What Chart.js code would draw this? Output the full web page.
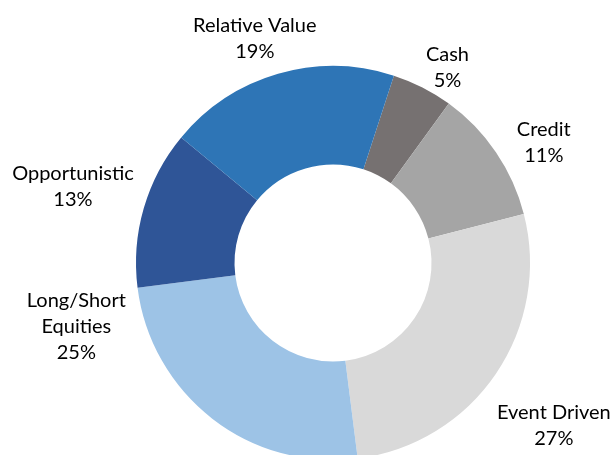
<!DOCTYPE html>
<html>
<head>
<meta charset="utf-8">
<script src="https://cdn.jsdelivr.net/npm/chart.js@4/dist/chart.umd.min.js"></script>
<style>
html,body{margin:0;padding:0;background:#fff;overflow:hidden;}
#wrap{position:absolute;left:0;top:0;width:613px;height:526px;}
</style>
</head>
<body>
<div id="wrap"><canvas id="c" width="613" height="526"></canvas></div>
<script>
const categories = ["Cash", "Credit", "Event Driven", "Long/Short Equities", "Opportunistic", "Relative Value"];
const labelLines = [["Cash"], ["Credit"], ["Event Driven"], ["Long/Short", "Equities"], ["Opportunistic"], ["Relative Value"]];
const values = [5, 11, 27, 25, 13, 19];
const colors = ["#767171", "#A5A5A5", "#D9D9D9", "#9DC3E6", "#2F5597", "#2E75B6"];
// label block centres, relative to the doughnut centre, in units of the outer radius
const labelOffsets = [[0.581, -0.994], [1.070, -0.612], [1.121, 0.825], [-1.303, 0.322], [-1.320, -0.389], [-0.397, -1.141]];

const labelPlugin = {
  id: 'outLabels',
  afterDraw(chart) {
    const ctx = chart.ctx;
    const meta = chart.getDatasetMeta(0);
    const total = values.reduce((a, b) => a + b, 0);
    ctx.save();
    ctx.fillStyle = '#000';
    ctx.font = '20px Lato, "Open Sans", sans-serif';
    ctx.textAlign = 'center';
    ctx.textBaseline = 'alphabetic';
    const lh = 26;
    meta.data.forEach((arc, i) => {
      const cx = arc.x, cy = arc.y, R = arc.outerRadius;
      const lines = labelLines[i].concat([Math.round(values[i] / total * 100) + '%']);
      const ax = cx + labelOffsets[i][0] * R;
      const ay = cy + labelOffsets[i][1] * R;
      const firstBase = ay + 6.5 - (lines.length - 1) * lh / 2;
      lines.forEach((t, j) => ctx.fillText(t, ax, firstBase + j * lh));
    });
    ctx.restore();
  }
};

new Chart(document.getElementById('c'), {
  type: 'doughnut',
  data: {
    labels: categories,
    datasets: [{
      data: values,
      backgroundColor: colors,
      borderWidth: 0
    }]
  },
  options: {
    responsive: false,
    animation: false,
    rotation: 18,
    cutout: '50%',
    layout: { padding: { top: 66, bottom: 66, left: 136, right: 83 } },
    plugins: { legend: { display: false }, tooltip: { enabled: false } }
  },
  plugins: [labelPlugin]
});
</script>
</body>
</html>
